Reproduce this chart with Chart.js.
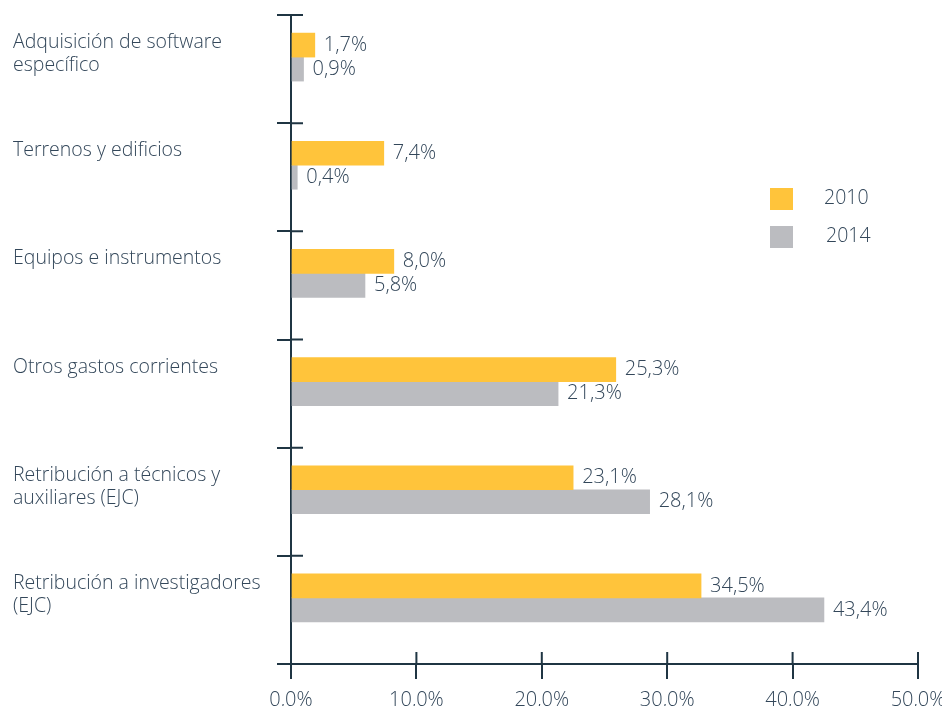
<!DOCTYPE html>
<html><head><meta charset="utf-8">
<script src="https://cdn.jsdelivr.net/npm/chart.js@4.4.1/dist/chart.umd.min.js"></script>
<style>html,body{margin:0;padding:0;background:#fff}#wrap{width:942px;height:706px;position:relative}</style>
</head><body><div id="wrap"><canvas id="c"></canvas></div>
<script>
// ---- data ----
const categories = [
  ['Adquisición de software', 'específico'],
  ['Terrenos y edificios', ''],
  ['Equipos e instrumentos', ''],
  ['Otros gastos corrientes', ''],
  ['Retribución a técnicos y', 'auxiliares (EJC)'],
  ['Retribución a investigadores', '(EJC)']
];
const seriesNames = ['2010', '2014'];
const values2010 = [1.9, 7.4, 8.2, 25.9, 22.5, 32.7];
const values2014 = [1.0, 0.5, 5.9, 21.3, 28.6, 42.5];
const labels2010 = ['1,7%', '7,4%', '8,0%', '25,3%', '23,1%', '34,5%'];
const labels2014 = ['0,9%', '0,4%', '5,8%', '21,3%', '28,1%', '43,4%'];
const xTicks = [0, 10, 20, 30, 40, 50];

// ---- styles ----
const YELLOW = '#FFC43B';
const GREY = '#BBBCC0';
const AXIS = '#1F3543';
const TEXT = '#33475A';
const FONT = "'Open Sans', sans-serif";
const WEIGHT = '300';

const valueLabelPlugin = {
  id: 'valueLabels',
  afterDatasetsDraw(chart) {
    const ctx = chart.ctx;
    const lbls = [labels2010, labels2014];
    ctx.save();
    ctx.font = WEIGHT + " 20px " + FONT;
    ctx.fillStyle = TEXT;
    ctx.textAlign = 'left';
    ctx.textBaseline = 'middle';
    for (let d = 0; d < 2; d++) {
      const meta = chart.getDatasetMeta(d);
      meta.data.forEach((bar, i) => {
        ctx.fillText(lbls[d][i], bar.x + 9, bar.y);
      });
    }
    ctx.restore();
  }
};

const crossTickPlugin = {
  id: 'crossTicks',
  afterDraw(chart) {
    const ctx = chart.ctx;
    const ca = chart.chartArea;
    const ys = chart.scales.y, xs = chart.scales.x;
    ctx.save();
    ctx.strokeStyle = AXIS;
    ctx.lineWidth = 2;
    ctx.beginPath();
    for (let i = 0; i < categories.length; i++) {
      const y = ys.getPixelForValue(i - 0.5);
      ctx.moveTo(ca.left, y);
      ctx.lineTo(ca.left + 12, y);
    }
    xTicks.forEach(t => {
      const x = xs.getPixelForValue(t);
      ctx.moveTo(x, ca.bottom);
      ctx.lineTo(x, ca.bottom - 12);
    });
    ctx.stroke();
    ctx.restore();
  }
};

const legendPlugin = {
  id: 'boxLegend',
  afterDraw(chart) {
    const ctx = chart.ctx;
    const ca = chart.chartArea;
    ctx.save();
    ctx.font = WEIGHT + " 19.5px " + FONT;
    ctx.textBaseline = 'middle';
    ctx.textAlign = 'left';
    for (let d = 0; d < 2; d++) {
      const ds = chart.data.datasets[d];
      const bx = ca.right - 148;
      const by = ca.top + 173 + d * 38;
      ctx.fillStyle = ds.backgroundColor;
      ctx.fillRect(bx, by, 23, 22);
      ctx.fillStyle = TEXT;
      ctx.fillText(ds.label, bx + 54 + d * 2, by + 10);
    }
    ctx.restore();
  }
};

new Chart(document.getElementById('c'), {
  type: 'bar',
  data: {
    labels: categories,
    datasets: [
      { label: seriesNames[0], data: values2010, backgroundColor: YELLOW, barThickness: 24 },
      { label: seriesNames[1], data: values2014, backgroundColor: GREY, barThickness: 24 },
      { label: '', data: [], backgroundColor: 'rgba(0,0,0,0)', barThickness: 24 }
    ]
  },
  options: {
    indexAxis: 'y',
    responsive: true,
    maintainAspectRatio: false,
    animation: false,
    layout: { padding: { left: 13, top: 15, right: 24, bottom: 0 } },
    plugins: { legend: { display: false }, tooltip: { enabled: false } },
    scales: {
      y: {
        type: 'category',
        grid: { offset: true, drawOnChartArea: false, drawTicks: true, tickLength: 14, color: AXIS, lineWidth: 2 },
        border: { display: true, color: AXIS, width: 2 },
        ticks: {
          autoSkip: false, crossAlign: 'far', padding: 0, labelOffset: -15,
          color: TEXT, font: { family: FONT, size: 19.5, weight: WEIGHT, lineHeight: 1.18 }
        },
        afterFit(s) { s.width = 278; s.paddingTop = 0; s.paddingBottom = 0; }
      },
      x: {
        type: 'linear', min: 0, max: 50,
        afterBuildTicks(s) { s.ticks = xTicks.map(v => ({ value: v })); },
        grid: { drawOnChartArea: false, drawTicks: true, tickLength: 15, color: AXIS, lineWidth: 2 },
        border: { display: true, color: AXIS, width: 2 },
        ticks: {
          padding: 9, color: TEXT, font: { family: FONT, size: 20, weight: WEIGHT },
          callback: v => v.toFixed(1).replace('.', ',') + '%'
        },
        afterFit(s) { s.height = 42; s.paddingLeft = 0; s.paddingRight = 0; }
      }
    }
  },
  plugins: [valueLabelPlugin, crossTickPlugin, legendPlugin]
});
</script>
</body></html>
